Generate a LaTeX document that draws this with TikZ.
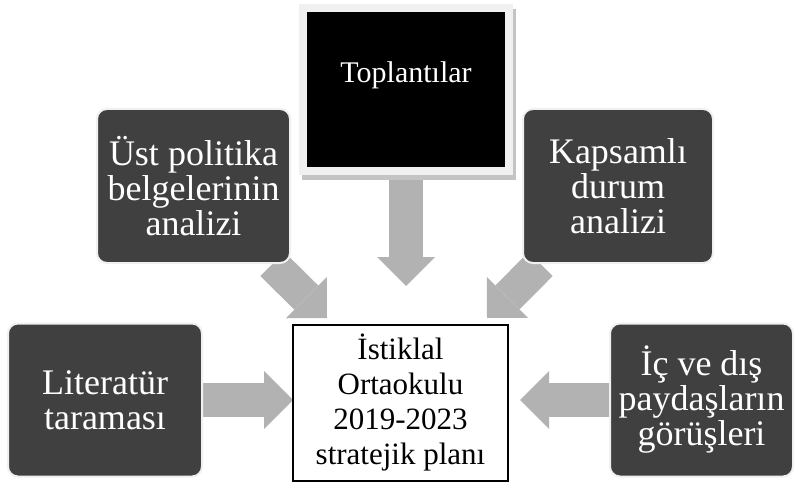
\documentclass[tikz,border=0pt]{standalone}
\usepackage{fontspec}
\setmainfont{Liberation Serif}
\usetikzlibrary{arrows.meta, backgrounds}

\definecolor{boxgray}{HTML}{404040}
\definecolor{arrowgray}{HTML}{B2B2B2}
\definecolor{framegray}{HTML}{F0F0F0}
\definecolor{shadowgray}{HTML}{C4C4C4}

\tikzset{
  darkbox/.style={rounded corners=10pt, fill=boxgray, draw=gray!12, line width=2pt, text=white, align=center, inner sep=0pt, font=\fontsize{36}{35}\selectfont},
  planbox/.style={draw=black, line width=1.6pt, fill=white, align=center, inner sep=0pt, minimum width=215pt, minimum height=156pt, font=\fontsize{31}{35}\selectfont},
  meetbox/.style={draw=framegray, line width=8pt, fill=black, minimum width=206pt, minimum height=163pt},
  bigarrow/.style={draw=arrowgray, line width=34pt, -{Triangle[width=58pt, length=29pt, line width=0pt]}}
}

\begin{document}
\begin{tikzpicture}[x=1pt, y=-1pt]
\useasboundingbox (0,0) rectangle (797,486);

\node[meetbox, label={[text=white, font=\fontsize{30}{35}\selectfont, yshift=14pt]center:Toplantılar}] (meet) at (406,89.5) {};
\node[darkbox, minimum width=193pt, minimum height=154pt] (ust) at (193.5,186) {Üst politika\\belgelerinin\\analizi};
\node[darkbox, minimum width=190pt, minimum height=154pt] (kaps) at (618,186) {Kapsamlı\\durum\\analizi};
\node[darkbox, minimum width=194pt, minimum height=153pt] (lit) at (105,400) {Literatür\\taraması};
\node[darkbox, minimum width=183pt, minimum height=153pt] (ic) at (701.5,400) {İç ve dış\\paydaşların\\görüşleri};
\node[planbox] (plan) at (400.5,403) {İstiklal\\Ortaokulu\\2019-2023\\stratejik planı};

\coordinate (meetTip) at (406,286);
\coordinate (ustTip) at (327,318);
\coordinate (kapsTip) at (487,318);
\coordinate (litTip) at (293,400);
\coordinate (icTip) at (520,400);

\begin{scope}[on background layer]
\draw[bigarrow] (meet) -- (meetTip);
\draw[bigarrow] (ust) -- (ustTip);
\draw[bigarrow] (kaps) -- (kapsTip);
\draw[bigarrow] (lit) -- (litTip);
\draw[bigarrow] (ic) -- (icTip);
\fill[shadowgray] ([shift={(3,5)}]meet.north west) rectangle ([shift={(3,5)}]meet.south east);
\end{scope}

\end{tikzpicture}
\end{document}
